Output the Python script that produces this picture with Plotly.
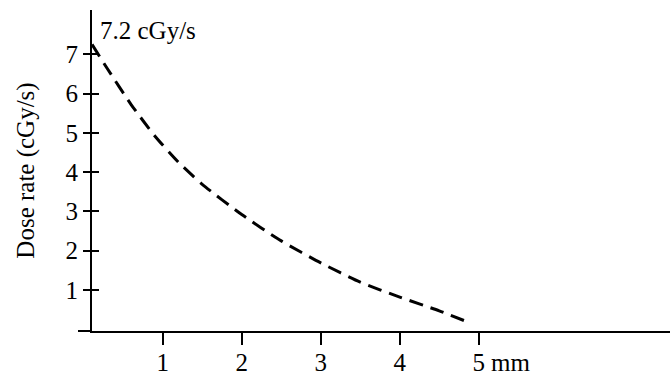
import plotly.graph_objects as go

# Data
depth_mm = [0.105, 0.3, 0.6, 0.9, 1.2, 1.5, 2.0, 2.5, 3.0, 3.5, 4.0, 4.5, 4.83]
dose_rate = [7.25, 6.63, 5.72, 4.92, 4.25, 3.69, 2.92, 2.25, 1.69, 1.2, 0.82, 0.47, 0.21]
x_ticks = [1, 2, 3, 4, 5]
x_tick_text = ["1", "2", "3", "4", "5"]
y_ticks = [1, 2, 3, 4, 5, 6, 7]
y_tick_text = ["1", "2", "3", "4", "5", "6", "7"]
start_label = "7.2 cGy/s"
unit_label = "mm"
y_title = "Dose rate (cGy/s)"

FONT = "Liberation Serif, Times New Roman, serif"
FS = 25
W, H = 670, 376
ML, MR, MT, MB = 92, 0, 10, 45
plot_w = W - ML - MR
plot_h = H - MT - MB
x_range = [0.105, 7.42]
y_range = [-0.043, 8.125]

fig = go.Figure()
fig.add_trace(go.Scatter(
    x=depth_mm, y=dose_rate, mode="lines",
    line=dict(color="black", width=3, dash="14px,8px", shape="spline", smoothing=0.6),
    showlegend=False, hoverinfo="skip",
))
fig.add_trace(go.Scatter(x=[depth_mm[0]], y=[dose_rate[0]], yaxis="y2", mode="markers",
                         marker=dict(opacity=0), showlegend=False, hoverinfo="skip"))

fig.add_annotation(x=(98 - ML) / plot_w, y=(H - MB - 30) / plot_h, xref="paper", yref="paper",
                   text=start_label, showarrow=False, xanchor="left", yanchor="middle",
                   font=dict(family=FONT, size=FS, color="black"))
fig.add_annotation(x=5, y=0, xref="x", yref="paper", text=unit_label, showarrow=False,
                   xanchor="left", yanchor="middle", xshift=10, yshift=-31,
                   font=dict(family=FONT, size=FS, color="black"))
# small extension of the x-axis line to the left of the y-axis
fig.add_shape(type="line", xref="paper", yref="paper", x0=-14 / plot_w, x1=0, y0=0, y1=0,
              line=dict(color="black", width=2))

fig.update_layout(
    width=W, height=H,
    margin=dict(l=ML, r=MR, t=MT, b=MB),
    paper_bgcolor="white", plot_bgcolor="white",
    font=dict(family=FONT, size=FS, color="black"),
    xaxis=dict(range=x_range, tickvals=x_ticks, ticktext=x_tick_text,
               showgrid=False, zeroline=False, showline=True, linecolor="black", linewidth=2,
               ticks="outside", ticklen=12, tickwidth=2, tickcolor="black",
               ticklabelstandoff=-4,
               tickfont=dict(family=FONT, size=FS, color="black")),
    yaxis=dict(range=y_range, tickvals=y_ticks, ticktext=y_tick_text,
               showgrid=False, zeroline=False, showline=True, linecolor="black", linewidth=2,
               ticks="outside", ticklen=7, tickwidth=2, tickcolor="black",
               tickfont=dict(family=FONT, size=FS, color="black"),
               title=dict(text=y_title, standoff=24, font=dict(family=FONT, size=FS, color="black"))),
    yaxis2=dict(range=y_range, tickvals=y_ticks, overlaying="y", anchor="x",
                showgrid=False, zeroline=False, showline=False, showticklabels=False,
                ticks="inside", ticklen=7, tickwidth=2, tickcolor="black"),
)

fig.write_html("out.html", config={"displayModeBar": False},
               post_script="document.body.style.margin='0';document.body.style.overflow='hidden';")
